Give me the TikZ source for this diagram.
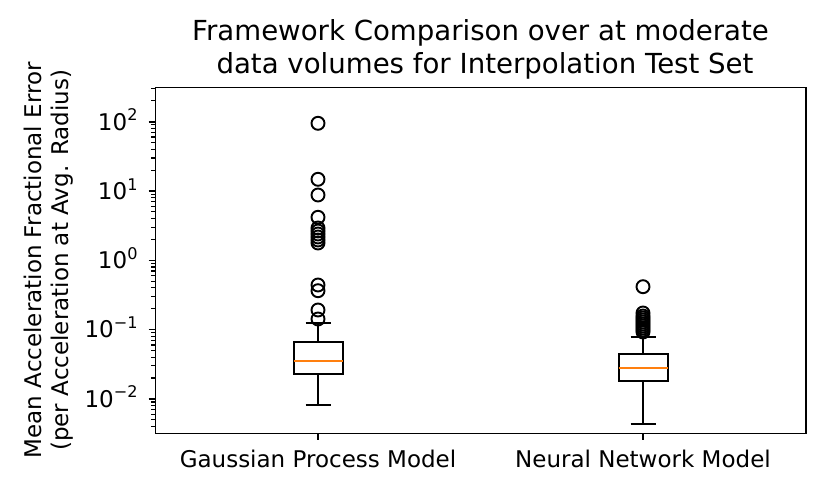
\documentclass[tikz,border=0pt]{standalone}
\usepackage{fontspec}
\setmainfont{DejaVu Sans}
\definecolor{mplorange}{HTML}{FF7F0E}
\begin{document}
\begin{tikzpicture}[x=1pt,y=-1pt,
  txt/.style={font=\fontsize{23}{27.6}\selectfont, inner sep=0pt, outer sep=0pt},
  ttl/.style={font=\fontsize{27.6}{33}\selectfont, inner sep=0pt, outer sep=0pt},
  spine/.style={line width=1.6pt},
  majortick/.style={line width=1.6pt},
  minortick/.style={line width=1.2pt},
  boxln/.style={line width=2pt},
  med/.style={line width=2pt, draw=mplorange},
  flier/.style={circle, draw, line width=1.9pt, minimum size=13pt, inner sep=0pt, outer sep=0pt}]
\useasboundingbox (0,0) rectangle (830,498);
\fill[white] (0,0) rectangle (830,498);

% minor ticks
\foreach \d in {-3,...,2}{
  \foreach \k in {2,...,9}{
    \pgfmathsetmacro\yy{260.3-69.3*(\d+log10(\k))}
    \ifdim\yy pt>87.8pt \ifdim\yy pt<433pt
      \draw[minortick] (151.3,\yy) -- (155.5,\yy);
    \fi\fi
  }
}
% major ticks and labels
\foreach \L/\lab/\nm in {2/2/a,1/1/b,0/0/c,-1/{−1}/d,-2/{−2}/e}{
  \pgfmathsetmacro\yy{260.3-69.3*\L}
  \draw[majortick] (148.5,\yy) -- (155.5,\yy);
  \node[txt, anchor=base east] (ytick\nm) at (137.5,{\yy+8.35}) {10\raisebox{9.3pt}{\fontsize{16.1}{16}\selectfont\lab}};
}
% x ticks
\draw[majortick] (318,433.3) -- (318,440.3);
\draw[majortick] (643,433.3) -- (643,440.3);

% Gaussian process box
\draw[boxln] (293.5,341.7) rectangle (342.5,374.3);
\draw[boxln] (318,374.3) -- (318,405);
\draw[boxln] (318,341.7) -- (318,322.7);
\draw[boxln] (305.5,405) -- (330.5,405);
\draw[boxln] (305.5,322.7) -- (330.5,322.7);
\draw[med] (293.5,361) -- (342.5,361);
\foreach \yy [count=\i] in {123.3,179.3,195,217.3,228,231,234,237,240,243,285,290.7,310,319}{
  \node[flier] (gpf\i) at (318,\yy) {};
}

% Neural network box
\draw[boxln] (618.5,354) rectangle (667.5,380.7);
\draw[boxln] (643,380.7) -- (643,424);
\draw[boxln] (643,354) -- (643,336.7);
\draw[boxln] (630.5,424) -- (655.5,424);
\draw[boxln] (630.5,336.7) -- (655.5,336.7);
\draw[med] (618.5,368) -- (667.5,368);
\foreach \yy [count=\i] in {286.7,313,316,318,320,322,324,326,328,330,332}{
  \node[flier] (nnf\i) at (643,\yy) {};
}

% frame
\draw[spine] (155.5,87.3) rectangle (805.7,433.3);

% x labels
\node[txt, anchor=base] (xl1) at (318,467.3) {Gaussian Process Model};
\node[txt, anchor=base] (xl2) at (643,467.3) {Neural Network Model};

% title
\node[ttl, anchor=base] (t1) at (480.6,40.5) {Framework Comparison over at moderate};
\node[ttl, anchor=base] (t2) at (485,73.5) {data volumes for Interpolation Test Set};

% y label
\node[txt, rotate=90, anchor=base] (yl1) at (41.7,260.3) {Mean Acceleration Fractional Error};
\node[txt, rotate=90, anchor=base] (yl2) at (68,260.3) {(per Acceleration at Avg. Radius)};
\end{tikzpicture}
\end{document}
